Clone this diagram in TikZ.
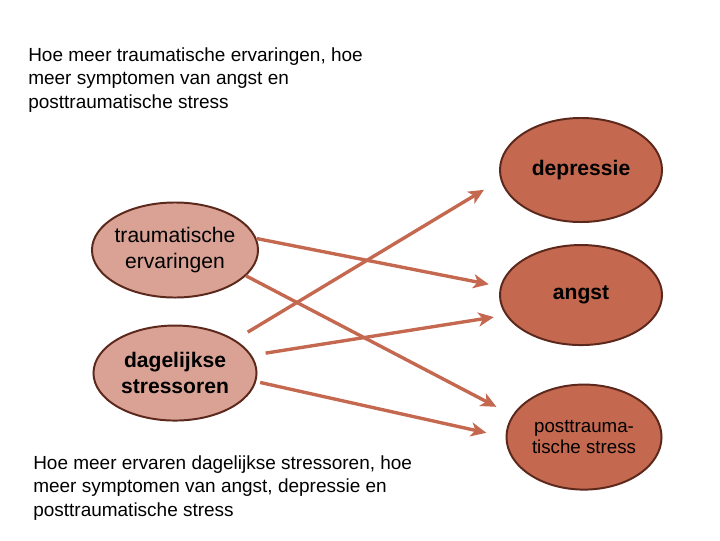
\documentclass[tikz,border=0pt]{standalone}
\usepackage{fontspec}
\setmainfont{Liberation Sans}
\usetikzlibrary{positioning,shapes.geometric,arrows.meta}

\definecolor{huidlicht}{RGB}{218,162,149}
\definecolor{roestrood}{RGB}{196,104,80}
\definecolor{bruinrand}{RGB}{92,40,28}

\tikzset{
  oorzaak/.style={ellipse, draw=bruinrand, line width=1.4pt, fill=huidlicht,
    minimum width=4.15cm, minimum height=2.375cm, inner xsep=-6pt, inner ysep=0pt,
    align=center, font=\fontsize{15}{19}\selectfont},
  gevolg/.style={oorzaak, fill=roestrood, minimum width=4.05cm, minimum height=2.6cm},
  pijl/.style={draw=roestrood, line width=2.4pt, -{Stealth[length=11pt,width=10pt,inset=3pt]}},
  uitleg/.style={anchor=north west, inner sep=0pt, align=left, font=\fontsize{13.5}{17}\selectfont}
}

\begin{document}
\begin{tikzpicture}[x=0.025cm, y=-0.025cm]
  \useasboundingbox (0,0) rectangle (720,540);

  \begin{scope}[on grid]

  \node[oorzaak] (trauma) at (175,250) {traumatische\\ervaringen};
  \node[oorzaak, below=3.075cm of trauma, minimum width=4.075cm,
        font=\fontsize{15}{19}\selectfont\bfseries] (dagelijks) {dagelijkse\\stressoren};

  \node[gevolg, font=\fontsize{15}{19}\selectfont\bfseries] (depressie) at (581,170) {depressie};
  \node[gevolg, below=3.125cm of depressie, minimum height=2.5cm,
        font=\fontsize{15}{19}\selectfont\bfseries] (angst) {angst};
  \node[gevolg, below right=3.55cm and 0.075cm of angst, minimum width=3.875cm,
        minimum height=2.625cm, font=\fontsize{13.3}{15}\selectfont] (ptss) {posttrauma-\\tische stress};

  \end{scope}

  \node[uitleg] (uitleg-boven) at (28,47)
    {Hoe meer traumatische ervaringen, hoe\\meer symptomen van angst en\\posttraumatische stress};
  \node[uitleg] (uitleg-onder) at (33,455)
    {Hoe meer ervaren dagelijkse stressoren, hoe\\meer symptomen van angst, depressie en\\posttraumatische stress};

  \path
  (trauma.8)      edge [pijl, shorten >=0.29cm]                     (angst.174);
  \path
  (trauma.-20)    edge [pijl, shorten >=0.45cm]                     (ptss.163);
  \path
  (dagelijks.29)  edge [pijl, shorten <=0.37cm, shorten >=0.48cm]   (depressie.187);
  \path
  (dagelijks.13)  edge [pijl, shorten <=0.35cm, shorten >=0.3cm]    (angst.195);
  \path
  (dagelijks.-6)  edge [pijl, shorten <=0.1cm, shorten >=0.49cm]    (ptss.180);

\end{tikzpicture}
\end{document}
